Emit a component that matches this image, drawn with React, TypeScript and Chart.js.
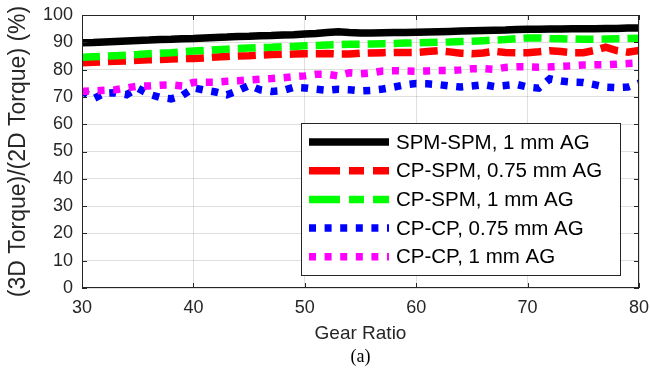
import React, { useEffect, useRef } from "react";
import { Chart, registerables } from "chart.js";

Chart.register(...registerables);

const gearRatio = [
  30, 31, 32, 33, 34, 35, 36, 37, 38, 39, 40, 41, 42, 43, 44, 45, 46, 47, 48, 49, 50,
  51, 52, 53, 54, 55, 56, 57, 58, 59, 60, 61, 62, 63, 64, 65, 66, 67, 68, 69, 70,
  71, 72, 73, 74, 75, 76, 77, 78, 79, 80,
];

const spmSpm1 = [
  89.8, 89.9, 90.1, 90.3, 90.5, 90.7, 90.8, 91.0, 91.1, 91.3, 91.4, 91.6, 91.8, 91.9, 92.1, 92.2, 92.4, 92.5, 92.7, 92.8, 93.0,
  93.2, 93.6, 93.9, 93.6, 93.4, 93.4, 93.5, 93.6, 93.6, 93.7, 93.8, 93.9, 94.0, 94.1, 94.2, 94.3, 94.4, 94.5, 94.7, 94.8,
  94.8, 94.9, 94.9, 95.0, 95.0, 95.0, 95.1, 95.1, 95.2, 95.2,
];

const cpSpm075 = [
  82.5, 82.7, 82.9, 83.1, 83.2, 83.4, 83.6, 83.7, 83.9, 84.0, 84.1, 84.3, 84.6, 84.8, 85.0, 85.1, 85.3, 85.5, 85.6, 85.7, 85.8,
  85.8, 85.9, 85.7, 85.7, 86.0, 86.1, 86.2, 86.3, 86.3, 86.3, 86.6, 86.9, 86.5, 86.0, 85.8, 86.1, 86.7, 86.3, 86.2, 86.2,
  86.5, 86.9, 86.6, 86.2, 86.2, 87.0, 88.2, 87.0, 86.4, 87.0,
];

const cpSpm1 = [
  84.5, 84.7, 84.9, 85.1, 85.3, 85.5, 85.8, 86.0, 86.2, 86.5, 86.8, 87.0, 87.3, 87.5, 87.7, 87.9, 88.1, 88.2, 88.4, 88.5, 88.7,
  88.8, 89.0, 89.1, 89.3, 89.3, 89.4, 89.5, 89.6, 89.7, 89.8, 89.9, 90.0, 90.1, 90.3, 90.4, 90.6, 90.8, 91.0, 91.3, 91.6,
  91.6, 91.4, 91.3, 91.2, 91.1, 91.1, 91.2, 91.3, 91.4, 91.5,
];

const cpCp075 = [
  72.3, 69.3, 71.3, 71.5, 70.8, 73.2, 71.0, 69.8, 69.3, 70.5, 73.3, 72.5, 71.8, 70.8, 72.3, 74.2, 72.6, 72.0, 72.3, 73.5, 73.3,
  72.8, 72.4, 72.8, 72.6, 72.2, 72.4, 72.9, 73.6, 74.4, 74.9, 74.8, 74.5, 74.0, 73.6, 74.0, 74.5, 73.8, 74.2, 74.6, 73.6,
  73.2, 76.6, 75.8, 75.4, 75.3, 74.5, 73.6, 73.4, 73.6, 75.0,
];

const cpCp1 = [
  72.0, 72.2, 72.4, 72.6, 73.3, 73.9, 74.0, 74.3, 74.4, 74.0, 75.3, 75.4, 75.4, 75.7, 75.9, 76.2, 76.5, 76.7, 77.0, 77.4, 77.7,
  78.3, 78.3, 77.7, 78.8, 78.5, 78.8, 79.5, 79.6, 79.5, 79.4, 79.5, 79.7, 79.7, 79.9, 80.3, 80.4, 80.1, 80.8, 81.0, 81.0,
  80.9, 81.0, 81.2, 81.4, 81.7, 81.8, 81.8, 82.0, 82.2, 82.4,
];

const seriesLabels = [
  "SPM-SPM, 1 mm AG",
  "CP-SPM, 0.75 mm AG",
  "CP-SPM, 1 mm AG",
  "CP-CP, 0.75 mm AG",
  "CP-CP, 1 mm AG",
];

const xTitle = "Gear Ratio";
const yTitle = "(3D Torque)/(2D Torque) (%)";
const caption = "(a)";

const FONT = "'Liberation Sans', Arial, Helvetica, sans-serif";
const AXIS_COLOR = "#262626";

const framePlugin = {
  id: "matlabFrame",
  afterDatasetsDraw(chart: any) {
    const { ctx, chartArea, scales } = chart;
    const { left, right, top, bottom } = chartArea;
    ctx.save();
    ctx.strokeStyle = AXIS_COLOR;
    ctx.lineWidth = 1;
    ctx.setLineDash([]);
    ctx.strokeRect(left + 0.5, top + 0.5, right - left - 1, bottom - top - 1);
    const tl = 5;
    ctx.beginPath();
    scales.y.ticks.forEach((t: any) => {
      const y = Math.round(scales.y.getPixelForValue(t.value)) + 0.5;
      ctx.moveTo(left, y);
      ctx.lineTo(left + tl, y);
      ctx.moveTo(right, y);
      ctx.lineTo(right - tl, y);
    });
    scales.x.ticks.forEach((t: any) => {
      const x = Math.round(scales.x.getPixelForValue(t.value)) + 0.5;
      ctx.moveTo(x, bottom);
      ctx.lineTo(x, bottom - tl);
      ctx.moveTo(x, top);
      ctx.lineTo(x, top + tl);
    });
    ctx.stroke();
    ctx.restore();
  },
  afterDraw(chart: any) {
    const { ctx, chartArea, data } = chart;
    ctx.save();
    const boxW = 319;
    const boxH = 152;
    const bx = chartArea.right - 19 - boxW;
    const by = chartArea.bottom - 13 - boxH;
    ctx.fillStyle = "#ffffff";
    ctx.fillRect(bx, by, boxW, boxH);
    ctx.strokeStyle = AXIS_COLOR;
    ctx.lineWidth = 1;
    ctx.strokeRect(Math.round(bx) + 0.5, Math.round(by) + 0.5, boxW, boxH);
    const rowH = 28.7;
    data.datasets.forEach((ds: any, i: number) => {
      const cy = by + 19 + i * rowH;
      ctx.save();
      ctx.strokeStyle = ds.borderColor;
      ctx.lineWidth = ds.borderWidth;
      ctx.lineCap = "butt";
      ctx.setLineDash(ds.legendDash || []);
      ctx.beginPath();
      ctx.moveTo(bx + 8, cy);
      ctx.lineTo(bx + 88, cy);
      ctx.stroke();
      ctx.restore();
      ctx.fillStyle = "#000000";
      ctx.font = `20.5px ${FONT}`;
      ctx.textAlign = "left";
      ctx.textBaseline = "middle";
      ctx.fillText(ds.label, bx + 95, cy + 1);
    });
    ctx.fillStyle = "#000000";
    ctx.font = "18px 'Liberation Serif', 'Times New Roman', serif";
    ctx.textAlign = "center";
    ctx.textBaseline = "middle";
    ctx.fillText(caption, (chartArea.left + chartArea.right) / 2, 357);
    ctx.restore();
  },
};

export default function App() {
  const canvasRef = useRef<HTMLCanvasElement | null>(null);

  useEffect(() => {
    document.body.style.margin = "0";
    const canvas = canvasRef.current;
    if (!canvas) return;
    const mk = (
      label: string,
      values: number[],
      color: string,
      width: number,
      dash: number[],
      legendDash: number[],
      order: number
    ) => ({
      label,
      data: gearRatio.map((x, i) => ({ x, y: values[i] })),
      borderColor: color,
      backgroundColor: color,
      borderWidth: width,
      borderDash: dash,
      legendDash,
      borderCapStyle: "butt",
      borderJoinStyle: "miter",
      pointRadius: 0,
      tension: 0,
      fill: false,
      order,
    });
    const chart = new Chart(canvas, {
      type: "line",
      data: {
        datasets: [
          mk(seriesLabels[0], spmSpm1, "#000000", 7.5, [], [], 5),
          mk(seriesLabels[1], cpSpm075, "#ff0000", 7.5, [18, 8], [31, 9, 15, 9, 16], 4),
          mk(seriesLabels[2], cpSpm1, "#00ff00", 7.5, [18, 8], [31, 9, 15, 9, 16], 3),
          mk(seriesLabels[3], cpCp075, "#0000ff", 7.5, [7, 8.6], [7, 8.6], 2),
          mk(seriesLabels[4], cpCp1, "#ff00ff", 7.5, [7, 8.6], [7, 8.6], 1),
        ] as any,
      },
      options: {
        animation: false,
        responsive: true,
        maintainAspectRatio: false,
        layout: { padding: { top: 15, right: 11, left: 0, bottom: 0 } },
        plugins: {
          legend: { display: false },
          tooltip: { enabled: false },
        },
        scales: {
          x: {
            type: "linear",
            min: 30,
            max: 80,
            ticks: {
              stepSize: 10,
              padding: 9,
              color: AXIS_COLOR,
              font: { family: FONT, size: 18 },
              maxRotation: 0,
            },
            grid: { color: "rgba(38,38,38,0.15)", drawTicks: false },
            border: { display: false },
            title: {
              display: true,
              text: xTitle,
              color: AXIS_COLOR,
              font: { family: FONT, size: 19 },
              padding: { top: 0, bottom: 34 },
            },
            afterFit: (scale: any) => {
              scale.height = 91;
              scale.paddingLeft = 0;
              scale.paddingRight = 0;
            },
          },
          y: {
            type: "linear",
            min: 0,
            max: 100,
            ticks: {
              stepSize: 10,
              padding: 9,
              color: AXIS_COLOR,
              font: { family: FONT, size: 18 },
            },
            grid: { color: "rgba(38,38,38,0.15)", drawTicks: false },
            border: { display: false },
            title: {
              display: true,
              text: yTitle,
              color: AXIS_COLOR,
              font: { family: FONT, size: 23 },
              padding: { top: 5, bottom: 0 },
            },
            afterFit: (scale: any) => {
              scale.width = 82;
              scale.paddingTop = 0;
              scale.paddingBottom = 0;
            },
          },
        },
      } as any,
      plugins: [framePlugin],
    });
    return () => chart.destroy();
  }, []);

  return (
    <div style={{ position: "fixed", left: 0, top: 0, width: 650, height: 379, background: "#fff" }}>
      <canvas ref={canvasRef} />
    </div>
  );
}
